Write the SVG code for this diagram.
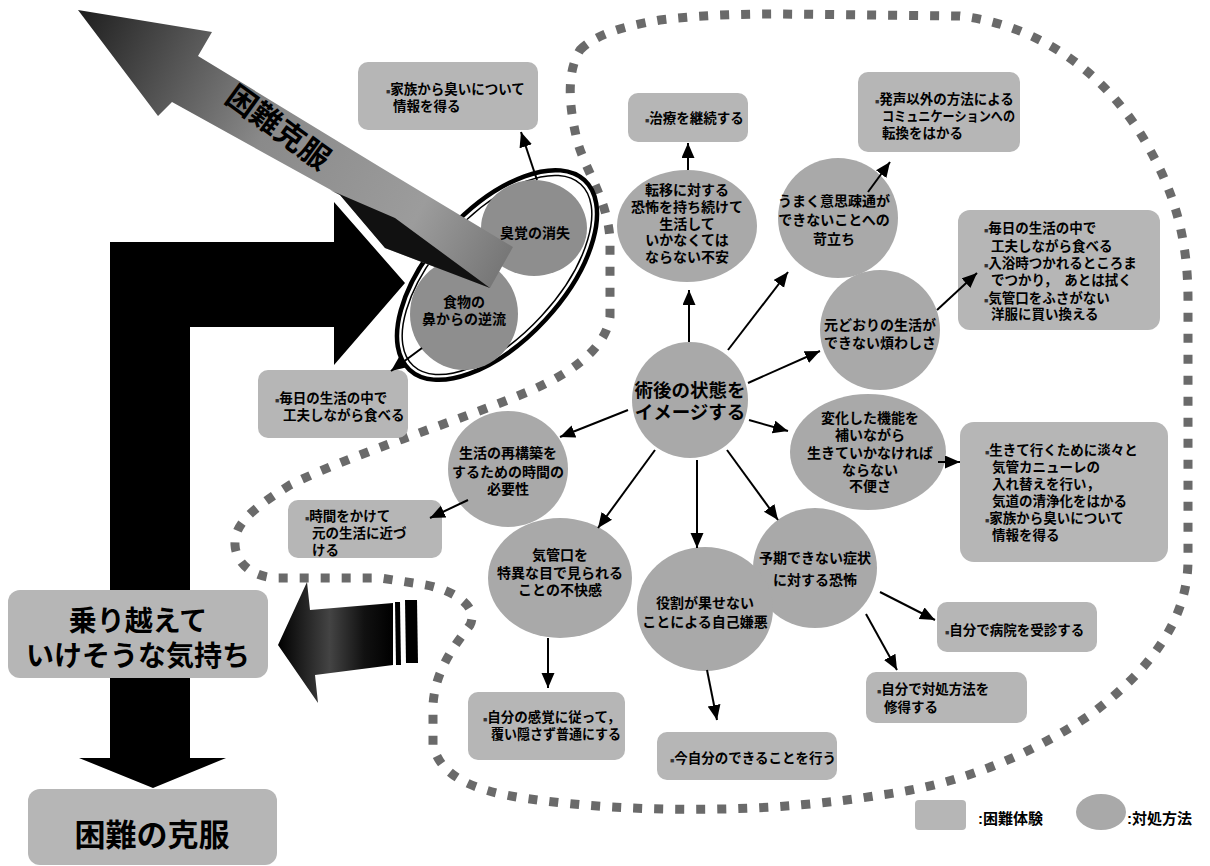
<svg xmlns="http://www.w3.org/2000/svg" width="1210" height="866" viewBox="0 0 1210 866">
<style>
.t{font-family:"Liberation Sans","Noto Sans CJK JP",sans-serif;font-weight:700;font-size:13.5px;fill:#000}
.tc{font-family:"Liberation Sans","Noto Sans CJK JP",sans-serif;font-weight:700;font-size:14px;fill:#000;text-anchor:middle}
.big{font-family:"Liberation Sans","Noto Sans CJK JP",sans-serif;font-weight:700;fill:#000;text-anchor:middle}
.bl{font-size:7px;fill:#333}
.box{fill:#b6b6b6}
.cir{fill:#a9a9a9}
.dcir{fill:#8e8e8e}
.con line{stroke:#000;stroke-width:2;marker-end:url(#ah)}
</style>
<defs>
<marker id="ah" markerUnits="userSpaceOnUse" markerWidth="16" markerHeight="14" refX="15" refY="6.5" orient="auto">
<path d="M0,0 L15,6.5 L0,13 z" fill="#000"/>
</marker>
<linearGradient id="dg" gradientUnits="userSpaceOnUse" x1="78" y1="10" x2="513" y2="247">
<stop offset="0" stop-color="#1e1e1e"/>
<stop offset="0.25" stop-color="#5a5a5a"/>
<stop offset="0.45" stop-color="#8a8a8a"/>
<stop offset="0.8" stop-color="#9c9c9c"/>
<stop offset="1" stop-color="#777"/>
</linearGradient>
<linearGradient id="lg" x1="0" y1="0" x2="1" y2="0">
<stop offset="0" stop-color="#000"/>
<stop offset="0.45" stop-color="#444"/>
<stop offset="0.75" stop-color="#111"/>
<stop offset="1" stop-color="#000"/>
</linearGradient>
</defs>
<rect width="1210" height="866" fill="#fff"/>

<g id="boundary">
<path d="M580,50 C595,35 620,27 660,20 C700,15 740,14 780,14 L960,16 C1040,25 1110,75 1150,150 C1175,195 1188,240 1188,300 L1188,560 C1188,620 1150,670 1090,715 C1030,755 960,785 880,795 C780,812 640,815 523,798 C470,790 440,775 433,745 L433,705 C435,670 455,645 470,625 C480,605 450,588 420,584 L380,578 L275,578 C250,576 236,562 235,545 C234,525 250,510 290,485 C350,455 460,420 520,395 C570,375 605,350 610,317 L610,240 C608,200 585,170 577,140 C570,110 565,75 580,50 Z" fill="none" stroke="#6a6a6a" stroke-width="9" stroke-dasharray="9 12"/>
</g>

<g id="l-arrow">
<polygon points="110,242 334,242 334,202 405,283 334,365 334,327 190,327 190,758 226,758 153,788 79,758 110,758" fill="#000"/>
</g>

<g id="enclosure">
<ellipse cx="497" cy="275" rx="129" ry="66" transform="rotate(-47.3 497 275)" fill="none" stroke="#000" stroke-width="4.5"/>
<ellipse cx="497" cy="275" rx="123.5" ry="60.5" transform="rotate(-47.3 497 275)" fill="none" stroke="#000" stroke-width="1.5"/>
</g>

<g id="n-smell">
<ellipse class="dcir" cx="534" cy="228" rx="53" ry="48"/>
<text class="tc" x="535" y="238">臭覚の消失</text>
</g>
<g id="n-food">
<ellipse class="dcir" cx="464" cy="314" rx="54" ry="56"/>
<text class="tc" x="464" y="307">食物の<tspan x="464" dy="16.5">鼻からの逆流</tspan></text>
</g>

<g id="diag-arrow">
<polygon points="78,10 212,32 198,56 380,167 513,247 490,288 385,248 340,195 172,102 158,116" fill="url(#dg)"/>
<polygon points="330,190 395,218 490,288 385,248 340,195" fill="#111"/>
<text class="big" font-size="30" transform="translate(272,136) rotate(36)">困難克服</text>
</g>

<g id="left-arrow">
<polygon points="278,645 307,582 310,610 393,603 393,665 315,675 318,703" fill="url(#lg)"/>
<polygon points="395,602 400,602 401,665 396,665" fill="#000"/>
<polygon points="405,600 417,600 418,663 406,663" fill="#000"/>
</g>

<g id="n-norikoe">
<rect class="box" x="8" y="590" width="260" height="88" rx="12"/>
<text class="big" font-size="28" x="138" y="631">乗り越えて<tspan x="138" dy="35">いけそうな気持ち</tspan></text>
</g>
<g id="n-kokufuku">
<rect class="box" x="28" y="789" width="249" height="76" rx="12"/>
<text class="big" font-size="31" x="152" y="846">困難の克服</text>
</g>

<g id="n-center">
<ellipse class="cir" cx="690" cy="400" rx="58" ry="58"/>
<text class="tc" style="font-size:18.5px" x="690" y="397">術後の状態を<tspan x="690" dy="22">イメージする</tspan></text>
</g>
<g id="n-teni">
<ellipse class="cir" cx="687" cy="226" rx="70" ry="56"/>
<text class="tc" x="687" y="195">転移に対する<tspan x="687" dy="17">恐怖を持ち続けて</tspan><tspan x="687" dy="16.5">生活して</tspan><tspan x="687" dy="16.5">いかなくては</tspan><tspan x="687" dy="17">ならない不安</tspan></text>
</g>
<g id="n-umaku">
<ellipse class="cir" cx="838" cy="218" rx="60" ry="60"/>
<text class="tc" x="834" y="206">うまく意思疎通が<tspan x="834" dy="19">できないことへの</tspan><tspan x="834" dy="19">苛立ち</tspan></text>
</g>
<g id="n-motodoori">
<ellipse class="cir" cx="880" cy="330" rx="60" ry="60"/>
<text class="tc" x="880" y="330">元どおりの生活が<tspan x="880" dy="18">できない煩わしさ</tspan></text>
</g>
<g id="n-henka">
<ellipse class="cir" cx="868" cy="452" rx="78" ry="58"/>
<text class="tc" x="870" y="423">変化した機能を<tspan x="870" dy="17">補いながら</tspan><tspan x="870" dy="18">生きていかなければ</tspan><tspan x="870" dy="17">ならない</tspan><tspan x="870" dy="16">不便さ</tspan></text>
</g>
<g id="n-yoki">
<ellipse class="cir" cx="815" cy="568" rx="62" ry="60"/>
<text class="tc" x="815" y="563">予期できない症状<tspan x="815" dy="22">に対する恐怖</tspan></text>
</g>
<g id="n-yakuwari">
<ellipse class="cir" cx="705" cy="609" rx="68" ry="62"/>
<text class="tc" x="705" y="608">役割が果せない<tspan x="705" dy="19">ことによる自己嫌悪</tspan></text>
</g>
<g id="n-kikanko">
<ellipse class="cir" cx="560" cy="578" rx="72" ry="60"/>
<text class="tc" x="560" y="560">気管口を<tspan x="560" dy="18">特異な目で見られる</tspan><tspan x="560" dy="17">ことの不快感</tspan></text>
</g>
<g id="n-seikatsu">
<ellipse class="cir" cx="508" cy="469" rx="60" ry="58"/>
<text class="tc" x="508" y="458">生活の再構築を<tspan x="508" dy="19">するための時間の</tspan><tspan x="508" dy="17">必要性</tspan></text>
</g>

<g id="b-kazoku">
<rect class="box" x="358" y="62" width="180" height="68" rx="10"/>
<text class="t" x="386" y="94"><tspan class="bl">■</tspan>家族から臭いについて<tspan x="393" dy="17">情報を得る</tspan></text>
</g>
<g id="b-chiryo">
<rect class="box" x="628" y="93" width="120" height="49" rx="10"/>
<text class="t" x="645" y="123"><tspan class="bl">■</tspan>治療を継続する</text>
</g>
<g id="b-hassei">
<rect class="box" x="858" y="72" width="162" height="80" rx="10"/>
<text class="t" x="875" y="104"><tspan class="bl">■</tspan>発声以外の方法による<tspan x="882" dy="17" textLength="133" lengthAdjust="spacingAndGlyphs">コミュニケーションへの</tspan><tspan x="882" dy="17">転換をはかる</tspan></text>
</g>
<g id="b-mainichi2">
<rect class="box" x="958" y="210" width="202" height="120" rx="12"/>
<text class="t" x="984" y="233"><tspan class="bl">■</tspan>毎日の生活の中で<tspan x="991" dy="18">工夫しながら食べる</tspan><tspan x="984" dy="17"><tspan class="bl">■</tspan>入浴時つかれるところま</tspan><tspan x="991" dy="17">でつかり，　あとは拭く</tspan><tspan x="984" dy="18"><tspan class="bl">■</tspan>気管口をふさがない</tspan><tspan x="991" dy="16">洋服に買い換える</tspan></text>
</g>
<g id="b-ikite">
<rect class="box" x="960" y="422" width="208" height="140" rx="14"/>
<text class="t" x="985" y="455"><tspan class="bl">■</tspan>生きて行くために淡々と<tspan x="992" dy="17">気管カニューレの</tspan><tspan x="992" dy="16.5">入れ替えを行い，</tspan><tspan x="992" dy="17">気道の清浄化をはかる</tspan><tspan x="985" dy="17.5"><tspan class="bl">■</tspan>家族から臭いについて</tspan><tspan x="992" dy="17">情報を得る</tspan></text>
</g>
<g id="b-byoin">
<rect class="box" x="937" y="602" width="160" height="50" rx="10"/>
<text class="t" x="945" y="635"><tspan class="bl">■</tspan>自分で病院を受診する</text>
</g>
<g id="b-taisho">
<rect class="box" x="866" y="672" width="161" height="51" rx="10"/>
<text class="t" x="877" y="694"><tspan class="bl">■</tspan>自分で対処方法を<tspan x="884" dy="18">修得する</tspan></text>
</g>
<g id="b-ima">
<rect class="box" x="657" y="732" width="180" height="48" rx="10"/>
<text class="t" x="670" y="763"><tspan class="bl">■</tspan>今自分のできることを行う</text>
</g>
<g id="b-kankaku">
<rect class="box" x="468" y="692" width="157" height="68" rx="10"/>
<text class="t" x="483" y="722"><tspan class="bl">■</tspan>自分の感覚に従って，<tspan x="491" dy="17" textLength="130" lengthAdjust="spacingAndGlyphs">覆い隠さず普通にする</tspan></text>
</g>
<g id="b-jikan">
<rect class="box" x="288" y="500" width="154" height="58" rx="10"/>
<text class="t" x="305" y="521"><tspan class="bl">■</tspan>時間をかけて<tspan x="312" dy="17">元の生活に近づ</tspan><tspan x="312" dy="16.5">ける</tspan></text>
</g>
<g id="b-mainichi1">
<rect class="box" x="258" y="370" width="150" height="68" rx="10"/>
<text class="t" x="275" y="403"><tspan class="bl">■</tspan>毎日の生活の中で<tspan x="283" dy="17">工夫しながら食べる</tspan></text>
</g>

<g id="connectors" class="con">
<line x1="537" y1="180" x2="521" y2="132"/>
<line x1="422" y1="348" x2="391" y2="371"/>
<line x1="689" y1="342" x2="689" y2="290"/>
<line x1="688" y1="170" x2="688" y2="143"/>
<line x1="728" y1="350" x2="788" y2="272"/>
<line x1="868" y1="192" x2="890" y2="162"/>
<line x1="748" y1="383" x2="820" y2="351"/>
<line x1="937" y1="310" x2="977" y2="273"/>
<line x1="749" y1="420" x2="788" y2="431"/>
<line x1="938" y1="462" x2="960" y2="462"/>
<line x1="727" y1="450" x2="778" y2="520"/>
<line x1="880" y1="592" x2="935" y2="620"/>
<line x1="866" y1="614" x2="897" y2="670"/>
<line x1="697" y1="460" x2="697" y2="548"/>
<line x1="707" y1="670" x2="717" y2="720"/>
<line x1="655" y1="450" x2="598" y2="528"/>
<line x1="548" y1="638" x2="548" y2="688"/>
<line x1="628" y1="410" x2="560" y2="437"/>
<line x1="468" y1="500" x2="430" y2="518"/>
</g>

<g id="legend">
<rect class="box" x="915" y="800" width="51" height="30" rx="4"/>
<text class="t" style="font-size:15px" x="978" y="824">:困難体験</text>
<ellipse class="cir" cx="1101" cy="812" rx="25" ry="18"/>
<text class="t" style="font-size:15px" x="1127" y="824">:対処方法</text>
</g>
</svg>
